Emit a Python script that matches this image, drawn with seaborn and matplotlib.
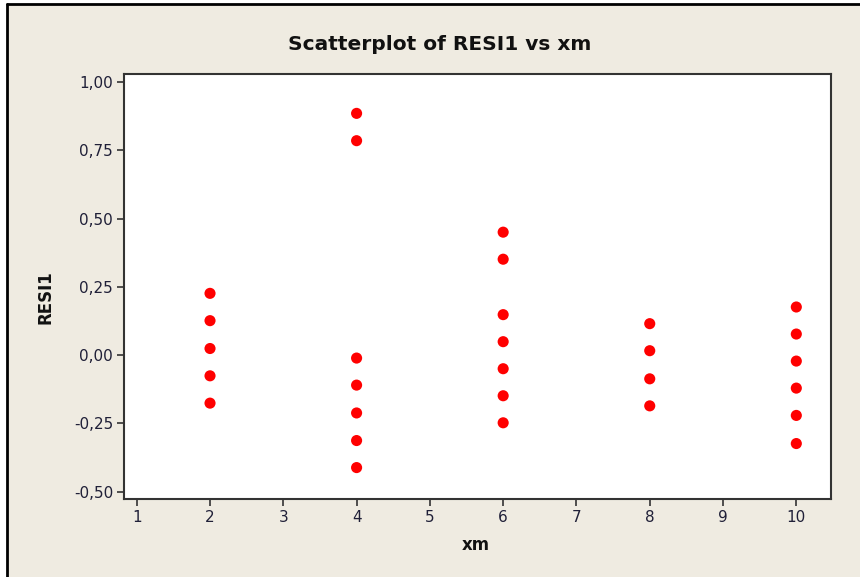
import matplotlib
matplotlib.use("Agg")
import matplotlib.pyplot as plt
import matplotlib.ticker as mticker
from matplotlib.patches import Rectangle
from matplotlib.lines import Line2D
import seaborn as sns
import pandas as pd

# ---- data ----
xm_2 = [2, 2, 2, 2, 2]
resi_2 = [0.226, 0.126, 0.024, -0.076, -0.176]
xm_4 = [4, 4, 4, 4, 4, 4, 4]
resi_4 = [0.885, 0.785, -0.011, -0.110, -0.212, -0.313, -0.412]
xm_6 = [6, 6, 6, 6, 6, 6, 6]
resi_6 = [0.450, 0.351, 0.148, 0.049, -0.050, -0.149, -0.248]
xm_8 = [8, 8, 8, 8]
resi_8 = [0.115, 0.016, -0.087, -0.186]
xm_10 = [10, 10, 10, 10, 10, 10]
resi_10 = [0.176, 0.077, -0.022, -0.121, -0.221, -0.324]

x_ticks = [1, 2, 3, 4, 5, 6, 7, 8, 9, 10]
y_ticks = [-0.50, -0.25, 0.00, 0.25, 0.50, 0.75, 1.00]

df = pd.DataFrame({
    "xm": xm_2 + xm_4 + xm_6 + xm_8 + xm_10,
    "RESI1": resi_2 + resi_4 + resi_6 + resi_8 + resi_10,
})

sns.set_style("white")
plt.rcParams["font.family"] = ["DejaVu Sans"]

BG = "#EFEBE1"
fig = plt.figure(figsize=(8.6, 5.77), dpi=100)
fig.patch.set_facecolor("white")
# beige panel with dark border on top/left
fig.patches.append(Rectangle((8 / 860, 0), 1, 1 - 4 / 577, transform=fig.transFigure,
                             facecolor=BG, edgecolor="none", zorder=-10))
fig.lines.append(Line2D([7 / 860, 1], [1 - 3.5 / 577, 1 - 3.5 / 577], transform=fig.transFigure,
                        color="black", lw=2))
fig.lines.append(Line2D([7 / 860, 7 / 860], [0, 1 - 3.5 / 577], transform=fig.transFigure,
                        color="black", lw=2))

ax = fig.add_axes([0.1445, 0.1352, 0.8215, 0.736])
ax.set_facecolor("white")
sns.scatterplot(data=df, x="xm", y="RESI1", ax=ax, color="#FF0000", s=64,
                edgecolor="none", linewidth=0, zorder=3)

ax.set_xlim(0.83, 10.47)
ax.set_ylim(-0.527, 1.028)
ax.set_xticks(x_ticks)
ax.set_yticks(y_ticks)
ax.yaxis.set_major_formatter(mticker.FuncFormatter(lambda v, p: f"{v:.2f}".replace(".", ",")))
ax.xaxis.set_major_formatter(mticker.FuncFormatter(lambda v, p: f"{int(v)}"))

for s in ax.spines.values():
    s.set_color("#333333")
    s.set_linewidth(1.5)
ax.tick_params(axis="both", direction="out", length=5, width=1.2, color="#333333",
               labelsize=11, labelcolor="#202038", pad=3, left=True, bottom=True)

ax.set_xlabel("")
ax.set_ylabel("")
fig.text(476 / 860, 1 - 545 / 577, "xm", ha="center", va="center",
         fontsize=12, fontweight="bold", color="#111111")
fig.text(45 / 860, 1 - 297 / 577, "RESI1", ha="center", va="center", rotation=90,
         fontsize=12, fontweight="bold", color="#111111")
fig.text(440 / 860, 1 - 45 / 577, "Scatterplot of RESI1 vs xm", ha="center", va="center",
         fontsize=14.5, fontweight="bold", color="#111111")

fig.savefig("out.png", dpi=100, facecolor=fig.get_facecolor())
